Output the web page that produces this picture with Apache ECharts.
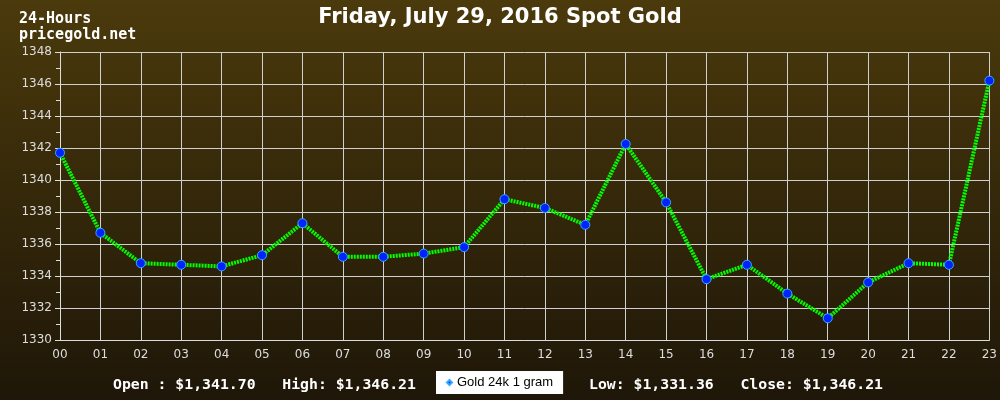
<!DOCTYPE html>
<html><head><meta charset="utf-8">
<script src="https://cdn.jsdelivr.net/npm/echarts@6/dist/echarts.min.js"></script>
<style>html,body{margin:0;padding:0;background:#000}#c{width:1000px;height:400px}</style>
</head><body><div id="c"></div>
<script>
const hours = ['00','01','02','03','04','05','06','07','08','09','10','11','12','13','14','15','16','17','18','19','20','21','22','23'];
const prices = [1341.70,1336.70,1334.80,1334.70,1334.60,1335.30,1337.30,1335.20,1335.20,1335.40,1335.80,1338.80,1338.25,1337.20,1342.25,1338.60,1333.80,1334.70,1332.90,1331.36,1333.60,1334.80,1334.70,1346.21];
const seriesName = 'Gold 24k 1 gram';
const titleText = 'Friday, July 29, 2016 Spot Gold';
const cornerText = '24-Hours\npricegold.net';
const footLeft = 'Open : $1,341.70   High: $1,346.21';
const footRight = 'Low: $1,331.36   Close: $1,346.21';

const chart = echarts.init(document.getElementById('c'));
const mono = '"DejaVu Sans Mono", "Liberation Mono", monospace';
chart.setOption({
  backgroundColor: new echarts.graphic.LinearGradient(0,0,0,1,[{offset:0,color:'#4b3a0c'},{offset:1,color:'#1e1608'}]),
  animation: false,
  title: [
    {text: titleText, left: 'center', top: 2, textStyle:{color:'#fff', fontFamily:'"DejaVu Sans"', fontWeight:'bold', fontSize:21}},
    {text: cornerText, left: 19, top: 11, padding:0, textStyle:{color:'#fff', fontFamily: mono, fontWeight:'bold', fontSize:15, lineHeight:16}},
    {text: footLeft, left: 113, top: 378, padding:0, textStyle:{color:'#fff', fontFamily: mono, fontWeight:'bold', fontSize:14.8}},
    {text: footRight, left: 589, top: 378, padding:0, textStyle:{color:'#fff', fontFamily: mono, fontWeight:'bold', fontSize:14.8}}
  ],
  legend: {
    data:[{name: seriesName, icon:'diamond'}],
    left: 436, top: 371, itemWidth: 5, itemHeight: 5, itemGap: 10,
    backgroundColor:'#fff', padding:[5,10,5,10], borderRadius:0,
    textStyle:{color:'#000', fontFamily:'"Liberation Sans", Arial', fontSize:13}
  },
  grid: {left: 60, right: 10, top: 52, bottom: 60},
  xAxis: {
    type:'category', data: hours, boundaryGap:false,
    axisLine:{lineStyle:{color:'#ddd'}},
    axisTick:{show:false},
    axisLabel:{color:'#ddd', fontFamily:'"DejaVu Sans"', fontSize:12, margin:9},
    splitLine:{show:true, lineStyle:{color:'#d0d0d0', width:1}}
  },
  yAxis: {
    type:'value', min:1330, max:1348, interval:2,
    axisLine:{show:true, lineStyle:{color:'#ddd'}},
    axisTick:{show:true, length:5, lineStyle:{color:'#ddd'}},
    minorTick:{show:true, splitNumber:2, length:4, lineStyle:{color:'#ddd'}},
    axisLabel:{color:'#ddd', fontFamily:'"DejaVu Sans"', fontSize:12, margin:8, formatter: v => String(v)},
    splitLine:{show:true, lineStyle:{color:'#d0d0d0', width:1}}
  },
  series: [{
    name: seriesName, type:'line', data: prices,
    symbol:'circle', symbolSize:9,
    lineStyle:{color:'#00ff00', width:4, type:[2,1]},
    itemStyle:{color:'#0022ff', borderColor:'#33aaff', borderWidth:1}
  }]
});
</script></body></html>
